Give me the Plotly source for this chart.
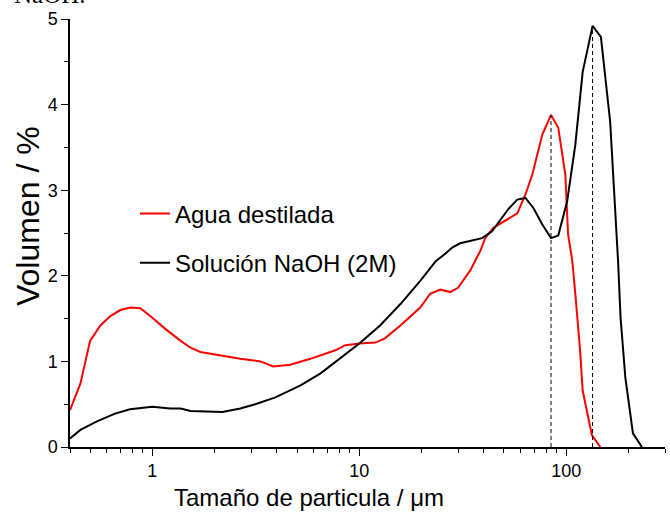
import plotly.graph_objects as go
import numpy as np

# Agua destilada (red)
x_agua = [0.40, 0.449, 0.50, 0.561, 0.627, 0.70, 0.783, 0.875, 1.0, 1.155, 1.37, 1.53, 1.706,
          2.13, 2.66, 3.33, 3.84, 4.64, 5.8, 7.66, 8.56, 10.0, 11.95, 13.3, 15.8, 19.7, 22.0,
          24.6, 27.5, 30.0, 34.3, 38.4, 40.6, 44.4, 49.0, 52.5, 58.0, 63.5, 68.5, 76.6, 84.4,
          91.5, 99.0, 102.0, 107.0, 110.6, 116.6, 120.0, 133.0, 146.0]
y_agua = [0.43, 0.74, 1.24, 1.42, 1.53, 1.60, 1.63, 1.62, 1.51, 1.38, 1.24, 1.16, 1.11,
          1.07, 1.03, 1.00, 0.94, 0.96, 1.03, 1.13, 1.19, 1.21, 1.22, 1.27, 1.42, 1.63, 1.79,
          1.84, 1.81, 1.86, 2.06, 2.29, 2.44, 2.56, 2.62, 2.66, 2.73, 2.95, 3.18, 3.65, 3.88,
          3.73, 3.18, 2.49, 2.17, 1.79, 1.13, 0.66, 0.14, 0.0]

# Solución NaOH (2M) (black)
x_naoh = [0.40, 0.449, 0.54, 0.66, 0.78, 1.0, 1.22, 1.37, 1.53, 1.9, 2.18, 2.66, 3.14, 3.93,
          5.2, 6.5, 7.66, 10.0, 12.6, 15.8, 19.7, 23.4, 26.1, 28.1, 30.7, 35.6, 39.2, 43.8,
          47.0, 52.5, 58.0, 63.5, 69.5, 76.6, 84.4, 91.5, 101.0, 110.6, 120.0, 134.0, 147.0,
          163.0, 178.0, 183.0, 193.0, 210.0, 232.0]
y_naoh = [0.10, 0.20, 0.30, 0.39, 0.44, 0.47, 0.45, 0.45, 0.42, 0.41, 0.41, 0.45, 0.50, 0.58,
          0.72, 0.86, 0.99, 1.21, 1.42, 1.67, 1.94, 2.17, 2.26, 2.33, 2.38, 2.42, 2.44, 2.52,
          2.62, 2.78, 2.89, 2.91, 2.79, 2.60, 2.44, 2.47, 2.87, 3.53, 4.38, 4.92, 4.79,
          3.80, 2.17, 1.51, 0.81, 0.16, 0.0]

x_ticks = [1, 10, 100]
x_ticktext = ["1", "10", "100"]
x_minor = [0.4, 0.5, 0.6, 0.7, 0.8, 0.9, 2, 3, 4, 5, 6, 7, 8, 9,
           20, 30, 40, 50, 60, 70, 80, 90, 200, 300]
y_ticks = [0, 1, 2, 3, 4, 5]

x_title = "Tamaño de particula / μm"
y_title = "Volumen / %"

font_name = "Liberation Sans, Arial, sans-serif"

W, H = 670, 513
L, R, T, B = 70, 5, 19, 66
PW, PH = W - L - R, H - T - B


def px(xp):
    return (xp - L) / PW


def py(yp):
    return (H - B - yp) / PH


fig = go.Figure()
fig.add_trace(go.Scatter(x=x_agua, y=y_agua, mode="lines", name="Agua destilada",
                         line=dict(color="#ff0000", width=2), legendgroup="a"))
fig.add_trace(go.Scatter(x=x_naoh, y=y_naoh, mode="lines", name="Solución NaOH (2M)",
                         line=dict(color="#000000", width=2), legendgroup="b"))

# dashed vertical lines at the peaks
ia = int(np.argmax(y_agua))
ib = int(np.argmax(y_naoh))
for xs, ys in [(x_agua[ia], y_agua[ia]), (x_naoh[ib], y_naoh[ib])]:
    fig.add_trace(go.Scatter(x=[xs, xs], y=[0, ys], mode="lines", showlegend=False,
                             line=dict(color="#000000", width=1, dash="4px,3px"),
                             hoverinfo="skip"))

fig.update_layout(
    width=W, height=H,
    margin=dict(l=L, r=R, t=T, b=B, autoexpand=False),
    paper_bgcolor="white", plot_bgcolor="white",
    font=dict(family=font_name, color="#000000", size=18),
    showlegend=True,
    legend=dict(x=px(135), y=0.597, xanchor="left", yanchor="top",
                font=dict(size=24, family=font_name), bgcolor="rgba(0,0,0,0)",
                traceorder="grouped", tracegroupgap=15),
    xaxis=dict(type="log", range=[np.log10(0.4), np.log10(300)], automargin=False,
               tickmode="array", tickvals=x_ticks, ticktext=x_ticktext,
               ticks="outside", ticklen=7, tickwidth=1, tickcolor="#000",
               showline=True, linecolor="#000", linewidth=1.5, showgrid=False,
               zeroline=False, tickfont=dict(size=18),
               minor=dict(tickmode="array", tickvals=x_minor, ticks="outside",
                          ticklen=4, tickwidth=1, tickcolor="#000", showgrid=False)),
    yaxis=dict(range=[0, 5], tickmode="array", tickvals=y_ticks, automargin=False,
               ticks="outside", ticklen=7, tickwidth=1, tickcolor="#000",
               showline=True, linecolor="#000", linewidth=1.5, showgrid=False,
               zeroline=False, tickfont=dict(size=18),
               minor=dict(dtick=0.5, ticks="outside", ticklen=4, tickwidth=1,
                          tickcolor="#000", showgrid=False)),
)

# axis titles (placed as in the reference)
fig.add_annotation(text=x_title, xref="paper", yref="paper", x=px(308.5), y=py(497),
                   xanchor="center", yanchor="middle", showarrow=False,
                   font=dict(size=24, family=font_name))
fig.add_annotation(text=y_title, xref="paper", yref="paper", x=px(28), y=py(216),
                   xanchor="center", yanchor="middle", showarrow=False, textangle=-90,
                   font=dict(size=32, family=font_name))

# caption fragment at the top
fig.add_annotation(text="NaOH.", xref="paper", yref="paper", x=px(12), y=1.022,
                   xanchor="left", yanchor="bottom", showarrow=False,
                   font=dict(family="Liberation Serif, Times New Roman, serif", size=25))

fig.write_html("out.html", config={"displayModeBar": False},
               post_script="document.body.style.margin='0';")
